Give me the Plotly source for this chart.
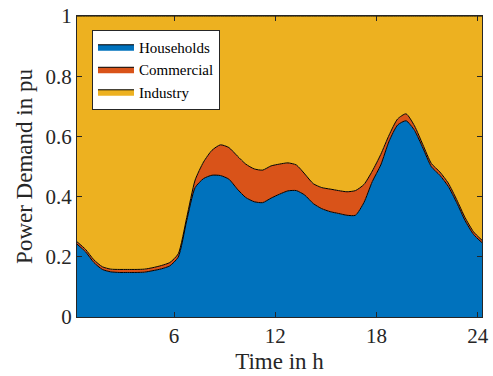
import plotly.graph_objects as go

time_h = [0.25, 0.75, 1.25, 1.75, 2.25, 2.75, 3.25, 3.75, 4.25, 4.75, 5.25, 5.75,
          6.25, 6.75, 7.25, 7.75, 8.25, 8.75, 9.25, 9.75, 10.25, 10.75, 11.25, 11.75,
          12.25, 12.75, 13.25, 13.75, 14.25, 14.75, 15.25, 15.75, 16.25, 16.75, 17.25, 17.75,
          18.25, 18.75, 19.25, 19.75, 20.25, 20.75, 21.25, 21.75, 22.25, 22.75, 23.25, 23.75,
          24.25]

households = [0.242, 0.217, 0.181, 0.158, 0.150, 0.148, 0.148, 0.148, 0.149, 0.154, 0.160, 0.170,
              0.199, 0.320, 0.430, 0.460, 0.471, 0.470, 0.458, 0.425, 0.397, 0.383, 0.380, 0.395,
              0.408, 0.419, 0.420, 0.405, 0.377, 0.360, 0.350, 0.344, 0.338, 0.338, 0.380, 0.450,
              0.505, 0.585, 0.638, 0.652, 0.620, 0.561, 0.499, 0.471, 0.434, 0.380, 0.320, 0.274,
              0.247]

commercial = [0.008, 0.008, 0.009, 0.009, 0.009, 0.010, 0.010, 0.010, 0.010, 0.010, 0.011, 0.011,
              0.011, 0.010, 0.025, 0.055, 0.083, 0.102, 0.105, 0.110, 0.111, 0.109, 0.108, 0.107,
              0.100, 0.093, 0.085, 0.070, 0.066, 0.070, 0.075, 0.076, 0.078, 0.082, 0.060, 0.035,
              0.035, 0.020, 0.020, 0.023, 0.015, 0.011, 0.011, 0.011, 0.011, 0.010, 0.010, 0.009,
              0.008]

industry = [0.750, 0.775, 0.810, 0.833, 0.841, 0.842, 0.842, 0.842, 0.841, 0.836, 0.829, 0.819,
            0.790, 0.670, 0.545, 0.485, 0.446, 0.428, 0.437, 0.465, 0.492, 0.508, 0.512, 0.498,
            0.492, 0.488, 0.495, 0.525, 0.557, 0.570, 0.575, 0.580, 0.584, 0.580, 0.560, 0.515,
            0.460, 0.395, 0.342, 0.325, 0.365, 0.428, 0.490, 0.518, 0.555, 0.610, 0.670, 0.717,
            0.745]

x_ticks = [6, 12, 18, 24]
y_ticks = [0, 0.2, 0.4, 0.6, 0.8, 1]
y_tick_text = ["0", "0.2", "0.4", "0.6", "0.8", "1"]

series = [("Households", households, "#0072BD"),
          ("Commercial", commercial, "#D95319"),
          ("Industry", industry, "#EDB120")]

FONT = "Liberation Serif"
AX = "#262626"

fig = go.Figure()
for name, vals, col in series:
    fig.add_trace(go.Scatter(
        x=time_h, y=vals, name=name, mode="lines", stackgroup="one",
        line=dict(color="black", width=1, shape="spline", smoothing=0.6),
        fillcolor=col,
    ))

fig.update_layout(
    width=493, height=376,
    margin=dict(l=77, r=11, t=16, b=59),
    paper_bgcolor="white", plot_bgcolor="white",
    font=dict(family=FONT, size=20, color=AX),
    showlegend=True,
    legend=dict(x=0.037, y=0.955, xanchor="left", yanchor="top",
                bgcolor="white", bordercolor=AX, borderwidth=1,
                font=dict(family=FONT, size=15, color="black"),
                tracegroupgap=0, itemwidth=36, traceorder="normal"),
)
fig.update_xaxes(
    range=[0.25, 24.25], tickvals=x_ticks, ticktext=[str(v) for v in x_ticks],
    ticks="inside", ticklen=5, tickcolor=AX, showline=True, linecolor=AX, linewidth=1,
    mirror="ticks", showgrid=False, zeroline=False, automargin=False,
    tickfont=dict(family=FONT, size=21, color=AX),
    title=dict(text="Time in h", font=dict(family=FONT, size=23, color=AX), standoff=5),
)
fig.update_yaxes(
    range=[0, 1], tickvals=y_ticks, ticktext=y_tick_text,
    ticks="inside", ticklen=5, tickcolor=AX, showline=True, linecolor=AX, linewidth=1,
    mirror="ticks", showgrid=False, zeroline=False, automargin=False,
    tickfont=dict(family=FONT, size=21, color=AX),
    title=dict(text="Power Demand in pu", font=dict(family=FONT, size=23, color=AX), standoff=6),
)

fig.write_html("out.html", config={"displayModeBar": False},
               post_script="document.body.style.margin='0';document.body.style.overflow='hidden';")
